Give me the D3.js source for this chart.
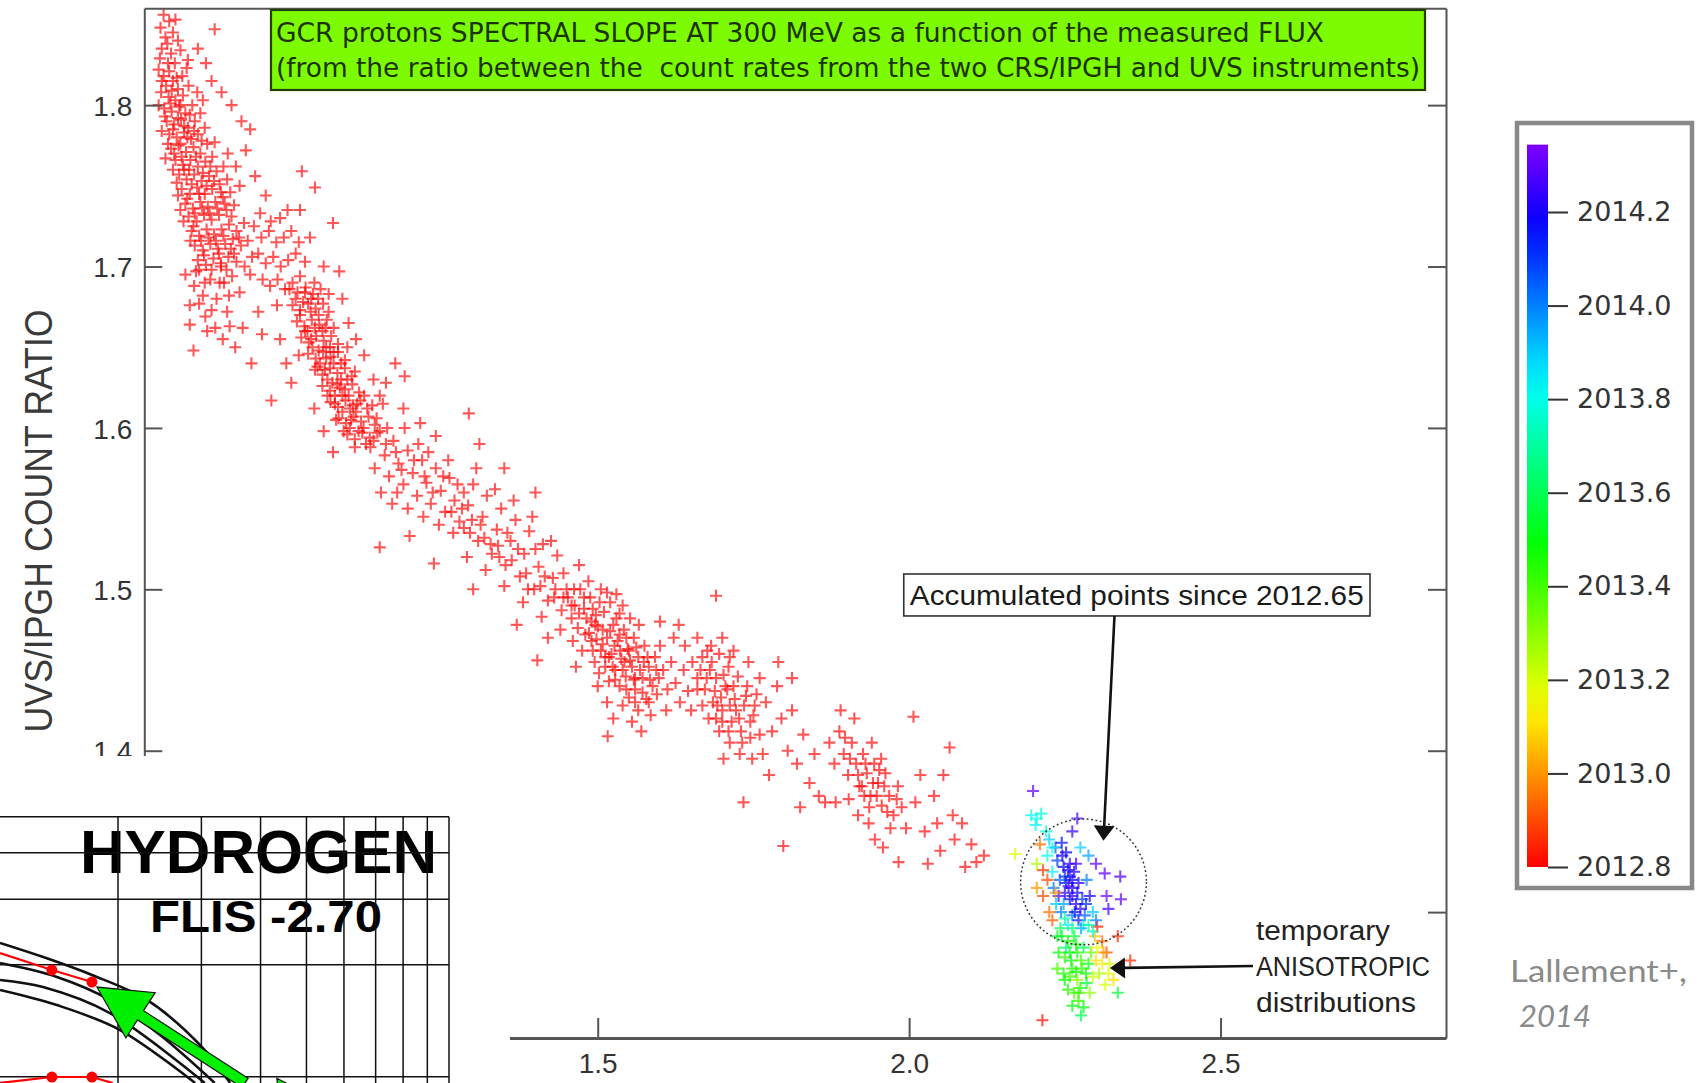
<!DOCTYPE html>
<html><head><meta charset="utf-8">
<script src="https://cdn.jsdelivr.net/npm/d3@7"></script>
<style>html,body{margin:0;padding:0;background:#fff;} svg{display:block;}</style>
</head><body>
<svg id="c" width="1701" height="1083"></svg>
<script>
// ---------------- DATA ----------------
const xTicks = [1.5, 2.0, 2.5];
const yTicksLeft = [1.4, 1.5, 1.6, 1.7, 1.8];
const yTicksRight = [1.3, 1.4, 1.5, 1.6, 1.7, 1.8];
const cbTicks = [2012.8, 2013.0, 2013.2, 2013.4, 2013.6, 2013.8, 2014.0, 2014.2];
const cbRange = [2012.8, 2014.344];

// red points (older than colour scale start) [flux, ratio]
const bandTop = [
[0.803,1.856],[0.812,1.852],[0.798,1.848],[0.818,1.845],[0.806,1.842],[0.822,1.853],[0.809,1.838],[0.826,1.840],[0.800,1.835],[0.815,1.832],[0.885,1.847],[0.830,1.834],[0.842,1.828],[0.797,1.829],[0.821,1.826],
[0.795,1.822],[0.803,1.818],[0.812,1.821],[0.807,1.812],[0.818,1.815],[0.826,1.810],[0.799,1.808],[0.811,1.805],[0.822,1.803],[0.834,1.806],[0.843,1.812],[0.804,1.798],[0.816,1.796],[0.828,1.799],[0.838,1.795],[0.849,1.800],[0.808,1.790],[0.820,1.788],[0.831,1.791],[0.842,1.786],[0.853,1.790],[0.862,1.795],[0.812,1.782],[0.824,1.780],[0.836,1.783],[0.847,1.779],[0.858,1.782],[0.869,1.786],[0.815,1.773],[0.827,1.775],[0.839,1.771],[0.851,1.774],[0.862,1.770],[0.873,1.776],[0.800,1.784],[0.795,1.800],[0.857,1.808],[0.866,1.803],[0.833,1.818],[0.840,1.823],
[0.822,1.766],[0.834,1.763],[0.846,1.766],[0.858,1.762],[0.870,1.765],[0.881,1.768],[0.828,1.757],[0.840,1.754],[0.852,1.757],[0.864,1.753],[0.876,1.756],[0.888,1.759],[0.899,1.762],[0.832,1.748],[0.845,1.745],[0.857,1.749],[0.869,1.745],[0.881,1.748],[0.893,1.751],[0.905,1.754],[0.838,1.739],[0.850,1.736],[0.862,1.740],[0.874,1.737],[0.886,1.740],[0.898,1.743],[0.910,1.746],[0.843,1.731],[0.856,1.728],[0.868,1.732],[0.880,1.729],[0.892,1.732],[0.904,1.735],[0.916,1.738],[0.826,1.744],[0.919,1.762],[0.906,1.770],[0.885,1.777],[0.830,1.735],[0.925,1.750],
[0.848,1.722],[0.860,1.719],[0.872,1.723],[0.884,1.720],[0.896,1.723],[0.908,1.726],[0.920,1.722],[0.853,1.713],[0.866,1.710],[0.878,1.714],[0.890,1.711],[0.902,1.714],[0.914,1.717],[0.927,1.713],[0.858,1.704],[0.871,1.701],[0.883,1.705],[0.895,1.702],[0.907,1.706],[0.932,1.727],[0.938,1.716],[0.945,1.706],[0.920,1.703],
[0.838,1.695],[0.852,1.688],[0.845,1.676],[0.866,1.682],[0.878,1.692],[0.845,1.664],[0.851,1.648],[0.870,1.669],[0.888,1.680],[0.900,1.690],[0.913,1.694],[0.886,1.662],[0.944,1.640],[0.976,1.617],[0.905,1.672],[0.925,1.684],[0.930,1.662],[0.961,1.658],[0.918,1.650],[0.955,1.672],[0.895,1.700],[0.860,1.698],
[0.967,1.744],[1.025,1.759],[1.046,1.749],[1.075,1.727],[1.038,1.718],[1.022,1.735],[0.935,1.772],[0.950,1.756],[0.958,1.733],[0.975,1.728],[0.942,1.785],[0.928,1.790],[0.912,1.800],[0.896,1.808],[0.880,1.815],[0.871,1.826],[0.858,1.835],
[0.800,1.815],[0.810,1.826],[0.816,1.809],[0.824,1.817],[0.830,1.800],[0.805,1.793],[0.814,1.801],[0.826,1.792],[0.836,1.787],[0.845,1.794],[0.818,1.785],[0.830,1.776],[0.841,1.780],[0.852,1.784],[0.864,1.778],[0.820,1.770],[0.832,1.768],[0.844,1.760],[0.855,1.768],[0.866,1.758],[0.878,1.762],[0.836,1.760],[0.848,1.751],[0.860,1.745],[0.872,1.750],[0.884,1.753],[0.895,1.746],[0.841,1.742],[0.853,1.733],[0.865,1.736],[0.877,1.733],[0.889,1.736],[0.901,1.739],[0.912,1.731],[0.851,1.725],[0.863,1.716],[0.875,1.718],[0.887,1.716],[0.899,1.719],[0.911,1.711],[0.924,1.718],[0.868,1.707],[0.880,1.698],[0.892,1.708],[0.904,1.698],[0.916,1.708],[0.933,1.700],[0.810,1.776],[0.806,1.767],[0.818,1.760],[0.824,1.752],[0.835,1.728],[0.846,1.716],[0.855,1.697],[0.869,1.690],[0.893,1.690],[0.908,1.682],[0.880,1.673],[0.860,1.677],[0.873,1.660],[0.898,1.655],[0.909,1.663]
];
const bandMid = [
[0.948,1.725],[0.960,1.718],[0.972,1.722],[0.984,1.715],[0.996,1.718],[0.955,1.708],[0.967,1.702],[0.979,1.706],[0.991,1.700],[1.003,1.704],[1.015,1.708],[0.962,1.692],[0.974,1.688],[0.986,1.692],[0.998,1.686],[1.010,1.690],[1.022,1.694],[1.008,1.722],[1.020,1.715],[1.030,1.703],[0.990,1.730],[1.002,1.735],[0.942,1.695],[0.985,1.676],[1.030,1.684],
[1.005,1.686],[1.018,1.684],[1.031,1.687],[1.043,1.683],[1.055,1.686],
[1.010,1.676],[1.022,1.673],[1.035,1.677],[1.047,1.674],[1.059,1.677],[1.068,1.672],
[1.017,1.666],[1.029,1.663],[1.041,1.667],[1.053,1.664],[1.065,1.667],[1.076,1.662],
[1.024,1.656],[1.036,1.653],[1.048,1.657],[1.060,1.654],[1.072,1.657],[1.083,1.652],
[1.035,1.646],[1.047,1.643],[1.059,1.647],[1.071,1.644],[1.083,1.647],[1.094,1.642],
[1.046,1.636],[1.058,1.633],[1.070,1.637],[1.082,1.634],[1.094,1.637],[1.105,1.632],
[1.058,1.626],[1.070,1.623],[1.082,1.627],[1.094,1.624],[1.106,1.627],[1.117,1.622],
[1.071,1.616],[1.083,1.613],[1.095,1.617],[1.107,1.614],[1.119,1.617],[1.130,1.612],
[1.084,1.606],[1.096,1.603],[1.108,1.607],[1.120,1.604],[1.132,1.607],[1.142,1.602],
[1.098,1.596],[1.110,1.593],[1.122,1.597],[1.134,1.594],[1.146,1.597],
[1.040,1.680],[1.052,1.670],[1.064,1.650],[1.076,1.640],[1.088,1.630],[1.100,1.620],[1.112,1.610],[1.124,1.600],[1.030,1.660],[1.042,1.650],[1.054,1.640],[1.066,1.630],[1.078,1.620],[1.090,1.610],[1.102,1.600],
[0.990,1.655],[1.000,1.640],[1.008,1.628],[1.020,1.645],[1.090,1.680],[1.100,1.665],[1.112,1.655],[1.125,1.645],[1.140,1.630],[1.045,1.612],[1.060,1.598],[1.150,1.620],[1.160,1.628],[1.075,1.585],[1.085,1.697],[1.060,1.700],[1.175,1.640],[1.190,1.632],
[1.015,1.680],[1.027,1.678],[1.039,1.672],[1.051,1.680],[1.063,1.662],[1.022,1.670],[1.034,1.660],[1.046,1.662],[1.058,1.660],[1.070,1.650],[1.040,1.655],[1.052,1.648],[1.064,1.643],[1.076,1.647],[1.088,1.640],[1.050,1.638],[1.062,1.636],[1.074,1.628],[1.086,1.625],[1.098,1.630],[1.066,1.620],[1.078,1.615],[1.090,1.620],[1.102,1.612],[1.114,1.615],[1.080,1.605],[1.092,1.598],[1.104,1.605],[1.116,1.598],[1.128,1.590],[1.110,1.588],[1.140,1.592],[1.045,1.690],[1.068,1.683],[1.098,1.650],[1.110,1.635],[1.125,1.620],[1.138,1.614]
];
const bandLow = [
[1.135,1.588],[1.142,1.575],[1.150,1.598],[1.158,1.583],[1.165,1.570],[1.172,1.592],[1.180,1.578],[1.188,1.565],[1.195,1.586],[1.203,1.572],[1.210,1.558],[1.218,1.580],[1.225,1.566],[1.232,1.553],[1.240,1.575],[1.248,1.561],[1.255,1.548],[1.262,1.569],[1.270,1.555],[1.278,1.542],[1.145,1.606],[1.162,1.600],[1.178,1.560],[1.195,1.550],[1.212,1.590],[1.228,1.585],[1.245,1.540],[1.260,1.580],[1.275,1.565],[1.155,1.615],[1.190,1.600],[1.220,1.545],[1.240,1.595],[1.268,1.535],[1.285,1.560],[1.170,1.553],[1.152,1.560],[1.198,1.533],[1.237,1.516],[1.150,1.526],[1.188,1.612],[1.215,1.603],
[1.285,1.538],[1.292,1.552],[1.300,1.565],[1.308,1.530],[1.315,1.545],[1.322,1.558],[1.330,1.522],[1.338,1.537],[1.345,1.550],[1.352,1.515],[1.360,1.530],[1.368,1.543],[1.375,1.508],[1.382,1.522],[1.390,1.536],[1.398,1.500],[1.405,1.514],[1.412,1.528],[1.420,1.493],[1.428,1.507],[1.435,1.521],[1.442,1.487],[1.450,1.500],[1.298,1.543],[1.318,1.532],[1.340,1.527],[1.362,1.518],[1.385,1.510],[1.408,1.502],[1.430,1.495],[1.305,1.575],[1.335,1.562],[1.365,1.555],[1.395,1.545],[1.425,1.530],[1.290,1.520],[1.320,1.512],[1.350,1.502],[1.380,1.492],[1.410,1.483],[1.440,1.475],[1.293,1.609],[1.310,1.590],[1.350,1.575],[1.400,1.560],[1.300,1.500],[1.370,1.478],[1.403,1.456],[1.420,1.470],
[1.160,1.590],[1.176,1.585],[1.185,1.574],[1.205,1.580],[1.222,1.570],[1.235,1.560],[1.252,1.570],[1.265,1.548],[1.282,1.550],[1.295,1.535],[1.312,1.540],[1.328,1.528],[1.342,1.520],[1.355,1.535],[1.372,1.525],[1.388,1.500],[1.400,1.525],[1.415,1.508],[1.432,1.500],[1.445,1.495],[1.458,1.490]
];
const blobC = [
[1.452,1.495],[1.463,1.490],[1.472,1.500],[1.458,1.482],[1.468,1.476],[1.478,1.488],[1.488,1.495],[1.497,1.484],[1.480,1.472],[1.490,1.468],[1.500,1.477],[1.510,1.486],[1.520,1.492],[1.505,1.462],[1.515,1.470],[1.525,1.478],[1.535,1.485],[1.495,1.455],[1.512,1.452],[1.522,1.460],[1.532,1.468],[1.542,1.475],[1.552,1.482],[1.518,1.443],[1.528,1.450],[1.538,1.457],[1.548,1.463],[1.558,1.470],[1.566,1.478],[1.535,1.440],[1.545,1.446],[1.555,1.452],[1.565,1.458],[1.575,1.465],[1.550,1.433],[1.560,1.438],[1.572,1.445],[1.582,1.452],[1.592,1.458],[1.565,1.425],[1.578,1.432],[1.588,1.440],[1.475,1.462],[1.485,1.505],[1.505,1.500],[1.530,1.497],[1.460,1.468],[1.540,1.428],[1.555,1.418],[1.570,1.412],[1.585,1.422],[1.598,1.445],[1.500,1.440],[1.515,1.430],[1.470,1.515],[1.445,1.510],[1.465,1.452],[1.525,1.420],[1.516,1.409],[1.490,1.480],[1.508,1.475],[1.527,1.465],[1.543,1.455],[1.560,1.445],[1.518,1.458],[1.535,1.472],[1.498,1.469],[1.482,1.482],[1.550,1.462],[1.574,1.455],
[1.600,1.465],[1.605,1.450],[1.612,1.438],[1.618,1.455],[1.625,1.442],[1.632,1.430],[1.638,1.450],[1.645,1.437],[1.610,1.425],[1.622,1.470],[1.640,1.465],[1.650,1.425],[1.600,1.480],[1.630,1.478],
[1.478,1.495],[1.492,1.488],[1.503,1.492],[1.486,1.473],[1.496,1.478],[1.508,1.466],[1.520,1.474],[1.530,1.482],[1.512,1.458],[1.524,1.452],[1.536,1.462],[1.546,1.470],[1.528,1.444],[1.540,1.450],[1.552,1.456],[1.562,1.464],[1.546,1.438],[1.558,1.444],[1.568,1.450],[1.580,1.458],[1.560,1.430],[1.572,1.436],[1.584,1.444],[1.594,1.450],[1.502,1.448],[1.492,1.462],[1.470,1.485],[1.462,1.500],[1.515,1.498],[1.540,1.490],[1.582,1.430],[1.595,1.435]
];
const blobD = [
[1.652,1.455],[1.660,1.445],[1.668,1.458],[1.672,1.438],[1.680,1.450],[1.685,1.430],[1.690,1.445],[1.695,1.460],[1.700,1.425],[1.705,1.440],[1.710,1.452],[1.715,1.418],[1.720,1.432],[1.725,1.446],[1.730,1.412],[1.735,1.428],[1.740,1.440],[1.745,1.408],[1.750,1.422],[1.755,1.435],[1.678,1.420],[1.695,1.412],[1.712,1.405],[1.728,1.398],[1.700,1.470],[1.690,1.496],[1.660,1.470],[1.682,1.465],[1.718,1.462],[1.742,1.455],[1.760,1.410],[1.765,1.398],[1.734,1.368],[1.698,1.433],[1.722,1.425],[1.708,1.438],[1.688,1.437],[1.748,1.395],[1.702,1.395],[1.668,1.428],
[1.665,1.450],[1.675,1.445],[1.683,1.455],[1.692,1.428],[1.702,1.447],[1.712,1.428],[1.718,1.440],[1.727,1.420],[1.738,1.434],[1.745,1.418],[1.752,1.428],[1.700,1.418],[1.690,1.420],[1.710,1.412],[1.732,1.405],[1.676,1.462],[1.712,1.458],[1.660,1.438]
];
const bandTail = [
[1.770,1.430],[1.780,1.412],[1.788,1.440],[1.795,1.420],[1.805,1.400],[1.798,1.341],[1.812,1.425],[1.820,1.392],[1.830,1.410],[1.840,1.380],[1.848,1.398],[1.855,1.372],[1.775,1.385],[1.790,1.455],[1.812,1.445],[1.825,1.365],[1.760,1.445],
[1.872,1.405],[1.880,1.392],[1.888,1.412],[1.895,1.398],[1.902,1.385],[1.908,1.405],[1.915,1.392],[1.920,1.378],[1.926,1.398],[1.932,1.386],[1.938,1.372],[1.944,1.392],[1.950,1.380],[1.956,1.366],[1.962,1.386],[1.968,1.372],[1.975,1.360],[1.982,1.378],[1.988,1.365],[1.995,1.352],[1.882,1.368],[1.865,1.368],[1.890,1.425],[1.912,1.420],[1.935,1.355],[1.945,1.345],[1.958,1.340],[1.970,1.352],[1.928,1.372],[1.918,1.360],[1.903,1.370],[1.940,1.405],[1.955,1.395],
[1.905,1.395],[1.918,1.385],[1.930,1.392],[1.942,1.380],[1.952,1.388],[1.924,1.378],[1.936,1.365],[1.948,1.372],[1.960,1.378],[1.897,1.408],[1.965,1.362],[1.980,1.370],
[2.007,1.421],[2.065,1.402],[2.070,1.360],[2.090,1.328],[2.108,1.331],[2.073,1.345],[1.983,1.331],[2.010,1.368],[2.025,1.350],[2.040,1.372],[2.050,1.338],[2.055,1.385],[2.030,1.330],[2.085,1.355],[2.100,1.342],[2.120,1.335],[2.018,1.385],[2.045,1.355]
];

// accumulated points since 2012.65 [flux, ratio, time]
const recentPts = [
[2.199,1.375,2014.30],[2.196,1.360,2013.82],[2.205,1.358,2013.80],[2.212,1.361,2013.78],[2.203,1.354,2013.85],
[2.270,1.358,2014.28],[2.262,1.350,2014.25],[2.170,1.336,2013.18],[2.205,1.330,2013.25],[2.210,1.342,2012.95],
[2.225,1.345,2013.90],[2.235,1.340,2014.05],[2.245,1.343,2014.15],[2.252,1.337,2014.20],[2.238,1.332,2014.10],[2.248,1.328,2014.18],[2.258,1.330,2014.22],[2.265,1.325,2014.20],[2.242,1.320,2014.05],[2.252,1.318,2014.15],[2.262,1.315,2014.20],[2.272,1.318,2014.22],[2.258,1.308,2014.18],[2.268,1.305,2014.22],[2.278,1.308,2014.10],[2.262,1.298,2014.00],[2.272,1.295,2014.15],[2.282,1.298,2014.05],[2.230,1.325,2013.85],[2.222,1.335,2013.80],[2.285,1.320,2014.00],[2.288,1.335,2013.95],[2.275,1.340,2013.90],[2.248,1.305,2013.95],[2.255,1.292,2013.85],[2.290,1.310,2014.20],[2.295,1.300,2013.90],[2.240,1.310,2014.25],[2.232,1.315,2014.00],[2.268,1.330,2014.26],[2.258,1.322,2014.24],[2.262,1.310,2014.24],[2.250,1.312,2014.22],
[2.314,1.324,2014.30],[2.339,1.322,2014.28],[2.317,1.310,2014.32],[2.340,1.308,2014.30],[2.320,1.302,2014.27],[2.300,1.330,2014.30],
[2.222,1.320,2012.90],[2.225,1.300,2012.95],[2.302,1.291,2012.85],[2.317,1.275,2012.90],[2.355,1.270,2012.85],[2.235,1.312,2013.00],[2.215,1.326,2012.88],[2.298,1.285,2013.05],[2.310,1.282,2012.95],
[2.280,1.292,2013.80],[2.295,1.288,2013.75],[2.300,1.295,2014.00],
[2.245,1.285,2013.50],[2.255,1.282,2013.45],[2.265,1.285,2013.55],[2.240,1.275,2013.48],[2.250,1.272,2013.42],[2.260,1.270,2013.50],[2.270,1.275,2013.45],[2.280,1.278,2013.60],[2.248,1.262,2013.45],[2.258,1.260,2013.40],[2.268,1.263,2013.48],[2.278,1.265,2013.42],[2.288,1.268,2013.50],[2.255,1.252,2013.45],[2.265,1.250,2013.38],[2.275,1.253,2013.45],[2.285,1.256,2013.55],[2.262,1.242,2013.50],[2.272,1.245,2013.42],[2.292,1.275,2013.35],[2.243,1.290,2013.60],[2.238,1.265,2013.40],[2.335,1.250,2013.55],[2.280,1.241,2013.50],[2.270,1.258,2013.30],[2.252,1.278,2013.65],
[2.302,1.278,2013.15],[2.310,1.268,2013.12],[2.320,1.262,2013.18],[2.328,1.258,2013.10],[2.315,1.255,2013.20],[2.305,1.262,2013.25],[2.295,1.260,2013.22],
[2.214,1.233,2012.82],
[2.246,1.335,2014.20],[2.255,1.326,2014.22],[2.262,1.320,2014.18],[2.270,1.312,2014.20],[2.275,1.302,2014.24],[2.266,1.300,2014.16],[2.256,1.316,2014.25],[2.250,1.322,2014.10],[2.244,1.300,2014.00],[2.236,1.305,2013.90],[2.230,1.340,2013.82],[2.220,1.350,2013.78],[2.284,1.305,2014.12],[2.276,1.290,2013.95],[2.288,1.292,2013.70],[2.262,1.290,2013.65],[2.250,1.296,2013.70],[2.258,1.275,2013.52],[2.268,1.280,2013.48],[2.276,1.270,2013.40],[2.284,1.262,2013.47],[2.262,1.265,2013.44],[2.250,1.258,2013.50],[2.272,1.250,2013.42],[2.290,1.250,2013.30],[2.300,1.270,2013.10],[2.312,1.275,2013.02],[2.322,1.268,2013.20],[2.230,1.295,2012.92],[2.238,1.285,2013.55],[2.276,1.236,2013.60],[2.335,1.285,2012.85],[2.215,1.310,2012.90],[2.205,1.315,2013.00]
];

// inset (log-log panel fragment)
const insetGridX = [2,3,4,5,6,7,8,9,10];
const insetGridY = [1,2,3,4,5];
const insetBlack = [
 [[1.127,2.288],[1.45,2.059],[1.762,1.877],[2.302,1.608],[2.98,1.217],[3.45,0.962]],
 [[1.127,2.021],[1.486,1.854],[1.923,1.608],[2.454,1.294],[3.2,0.962]],
 [[1.127,1.82],[1.389,1.742],[1.923,1.483],[3.05,0.962]],
 [[1.127,1.711],[1.486,1.558],[2.02,1.335],[2.91,0.962]]
];
const insetRedUpper = [[1.127,2.15],[1.45,1.935],[1.762,1.797]];
const insetRedLower = [[1.127,0.962],[1.45,0.998],[1.762,0.998],[1.95,0.962]];
const insetArrows = [ {from:[3.71,0.962], to:[1.805,1.742]}, {from:[4.85,0.80], to:[4.33,0.99]} ];

// ---------------- DRAW ----------------
const svg = d3.select("#c");
const x = d3.scaleLinear().domain([0.772, 2.862]).range([144.3, 1446]);
const y = d3.scaleLinear().domain([1.222, 1.860]).range([1038, 8.3]);
const hueScale = d3.scaleLinear().domain(cbRange).range([0, 270]).clamp(true);
const colorOf = t => d3.hsl(hueScale(t), 1, 0.5).formatHex();

const plus = "M-6,0H6M0,-6V6";
const redPts = [].concat(bandTop, bandMid, bandLow, blobC, blobD, bandTail);
svg.append("g").selectAll("path").data(redPts).join("path")
  .attr("d", plus).attr("transform", d => `translate(${x(d[0])},${y(d[1])})`)
  .attr("stroke", colorOf(2012.0)).attr("stroke-width", 2.1).attr("stroke-opacity", 0.66).attr("fill", "none");
svg.append("g").selectAll("path").data(recentPts).join("path")
  .attr("d", plus).attr("transform", d => `translate(${x(d[0])},${y(d[1])})`)
  .attr("stroke", d => colorOf(d[2])).attr("stroke-width", 2.1).attr("stroke-opacity", 0.72).attr("fill", "none");

// axes / frame
const axCol = "#555";
const gL = svg.append("g").attr("transform", `translate(${x.range()[0]},0)`)
  .call(d3.axisLeft(y).tickValues(yTicksLeft).tickFormat(d3.format(".1f")).tickSize(-18).tickSizeOuter(0).tickPadding(12));
const gR = svg.append("g").attr("transform", `translate(${x.range()[1]},0)`)
  .call(d3.axisRight(y).tickValues(yTicksRight).tickFormat("").tickSize(-18).tickSizeOuter(0));
const gB = svg.append("g").attr("transform", `translate(0,${y.range()[0]})`)
  .call(d3.axisBottom(x).tickValues(xTicks).tickFormat(d3.format(".1f")).tickSize(-20).tickSizeOuter(0).tickPadding(15));
const gT = svg.append("g").attr("transform", `translate(0,${y.range()[1]})`)
  .call(d3.axisTop(x).tickValues([]).tickSizeOuter(0));
[gL, gR, gB, gT].forEach(g => {
  g.select(".domain").attr("stroke", axCol).attr("stroke-width", 2);
  g.selectAll(".tick line").attr("stroke", axCol).attr("stroke-width", 2);
  g.selectAll("text").attr("fill", "#333").style("font-family", "'Liberation Sans Narrow','Liberation Sans',Arial,sans-serif").style("font-size", "28px");
});
gB.select(".domain").attr("stroke-width", 2.8);
gL.selectAll("text").attr("dy", "0.36em");

// y-axis title
svg.append("text").attr("transform", `translate(52,${(y(1.8)+y(1.4))/2 + 93}) rotate(-90)`)
  .attr("text-anchor", "middle").attr("fill", "#3a3a3a")
  .style("font-family", "'Liberation Sans Narrow','Liberation Sans',Arial,sans-serif").style("font-size", "38px")
  .attr("textLength", 423).attr("lengthAdjust", "spacingAndGlyphs")
  .text("UVS/IPGH COUNT RATIO");

// title box
svg.append("rect").attr("x", 271).attr("y", 10).attr("width", 1154).attr("height", 80)
  .attr("fill", "#7dfb02").attr("stroke", "#24400a").attr("stroke-width", 2.2);
const titleLines = ["GCR protons SPECTRAL SLOPE AT 300 MeV as a function of the measured FLUX",
  "(from the ratio between the  count rates from the two CRS/IPGH and UVS instruments)"];
const titleLens = [1048, 1144];
titleLines.forEach((t, i) => {
  svg.append("text").attr("x", 276).attr("y", 42 + i * 35).attr("fill", "#1c3300")
    .style("white-space", "pre")
    .style("font-family", "'Liberation Sans Narrow','DejaVu Sans Condensed','Liberation Sans',sans-serif").style("font-size", "27px")
    .attr("textLength", titleLens[i]).attr("lengthAdjust", "spacingAndGlyphs").text(t);
});

// annotation box + arrows
function arrowPoly(p0, p1, headLen, headHalf, shaftHalf) {
  const dx = p1[0]-p0[0], dy = p1[1]-p0[1], L = Math.hypot(dx, dy);
  const ux = dx/L, uy = dy/L, nx = -uy, ny = ux;
  const bx = p1[0]-ux*headLen, by = p1[1]-uy*headLen;
  return [[p0[0]+nx*shaftHalf, p0[1]+ny*shaftHalf],[bx+nx*shaftHalf, by+ny*shaftHalf],[bx+nx*headHalf, by+ny*headHalf],
          p1,[bx-nx*headHalf, by-ny*headHalf],[bx-nx*shaftHalf, by-ny*shaftHalf],[p0[0]-nx*shaftHalf, p0[1]-ny*shaftHalf]];
}
const poly = pts => "M" + pts.map(p => p.join(",")).join("L") + "Z";

svg.append("rect").attr("x", x(1.9914)).attr("y", y(1.5095)).attr("width", x(2.74)-x(1.9914)).attr("height", y(1.4835)-y(1.5095))
  .attr("fill", "#fff").attr("stroke", "#333").attr("stroke-width", 1.6);
svg.append("text").attr("x", x(1.9914)+6).attr("y", y(1.5095)+31).attr("fill", "#1a1a1a")
  .style("font-family", "'Liberation Sans Narrow','Liberation Sans',Arial,sans-serif").style("font-size", "27px")
  .attr("textLength", 454).attr("lengthAdjust", "spacingAndGlyphs").text("Accumulated points since 2012.65");
svg.append("path").attr("d", poly(arrowPoly([x(2.3297), y(1.4835)], [x(2.312), y(1.3442)], 15, 10.5, 1.3))).attr("fill", "#111");

// dashed circle
const cx = x(2.28), cyy = y(1.3187), r = x(2.28) - x(2.179);
svg.append("circle").attr("cx", cx).attr("cy", cyy).attr("r", r).attr("fill", "none")
  .attr("stroke", "#333").attr("stroke-width", 1.5).attr("stroke-dasharray", "1.8,2.6");

// anisotropic annotation
const anisoLines = ["temporary", "ANISOTROPIC", "distributions"];
const anisoLens = [134, 174, 160];
anisoLines.forEach((t, i) => {
  svg.append("text").attr("x", 1256).attr("y", 940 + i * 36).attr("fill", "#222")
    .style("font-family", "'Liberation Sans Narrow','Liberation Sans',Arial,sans-serif").style("font-size", "27px")
    .attr("textLength", anisoLens[i]).attr("lengthAdjust", "spacingAndGlyphs").text(t);
});
svg.append("path").attr("d", poly(arrowPoly([1253, 966], [x(2.3225), y(1.2653)], 15, 10.5, 1.3))).attr("fill", "#111");

// colour bar
const cb = d3.scaleLinear().domain([2012.8, 2014.2]).range([867, 212]);
svg.append("rect").attr("x", 1517).attr("y", 123).attr("width", 175).attr("height", 765)
  .attr("fill", "#fff").attr("stroke", "#888").attr("stroke-width", 4.5);
const grad = svg.append("defs").append("linearGradient").attr("id", "cbg")
  .attr("x1", 0).attr("y1", 1).attr("x2", 0).attr("y2", 0);
d3.range(0, 1.0001, 0.05).forEach(f => {
  grad.append("stop").attr("offset", f).attr("stop-color", colorOf(cbRange[0] + f * (cbRange[1] - cbRange[0])));
});
svg.append("rect").attr("x", 1527).attr("y", cb(cbRange[1])).attr("width", 21).attr("height", cb(cbRange[0]) - cb(cbRange[1]))
  .attr("fill", "url(#cbg)");
const gC = svg.append("g").attr("transform", "translate(1548,0)")
  .call(d3.axisRight(cb).tickValues(cbTicks).tickFormat(d3.format(".1f")).tickSize(20).tickPadding(9).tickSizeOuter(0));
gC.select(".domain").remove();
gC.selectAll(".tick line").attr("stroke", "#333").attr("stroke-width", 2);
gC.selectAll("text").attr("fill", "#333").style("font-family", "'DejaVu Sans',Verdana,sans-serif").style("font-size", "27px");

// citation
svg.append("text").attr("x", 1510).attr("y", 982).attr("fill", "#8a8a8a")
  .style("font-family", "Lato,'Open Sans',sans-serif").style("font-size", "31px")
  .attr("textLength", 177).attr("lengthAdjust", "spacingAndGlyphs").text("Lallement+,");
svg.append("text").attr("x", 1519).attr("y", 1027).attr("fill", "#8a8a8a")
  .style("font-family", "Lato,'Open Sans',sans-serif").style("font-size", "31px").style("font-style", "italic")
  .text("2014");

// ---------------- INSET ----------------
svg.append("rect").attr("x", 0).attr("y", 756).attr("width", 510).attr("height", 327).attr("fill", "#fff");
const ix = d3.scaleLog().domain([2, 10]).range([118, 449]);
const iy = d3.scaleLog().domain([1, 5]).range([1076.7, 816.7]);
svg.select("defs").append("clipPath").attr("id", "ic").append("rect")
  .attr("x", 0).attr("y", iy(5) - 2).attr("width", ix(10) + 2).attr("height", 1083 - iy(5) + 2);
const ig = svg.append("g").attr("clip-path", "url(#ic)");
ig.append("text").attr("x", 80).attr("y", 873).attr("fill", "#000")
  .style("font-family", "'Liberation Sans',Arial,sans-serif").style("font-weight", "bold").style("font-size", "61px")
  .attr("textLength", 357).attr("lengthAdjust", "spacingAndGlyphs").text("HYDROGEN");
ig.append("text").attr("x", 150).attr("y", 932).attr("fill", "#000")
  .style("font-family", "'Liberation Sans',Arial,sans-serif").style("font-weight", "bold").style("font-size", "45px")
  .attr("textLength", 232).attr("lengthAdjust", "spacingAndGlyphs").text("FLIS -2.70");
ig.selectAll(".gx").data(insetGridX).join("line").attr("class", "gx")
  .attr("x1", d => ix(d)).attr("x2", d => ix(d)).attr("y1", iy(5)).attr("y2", 1090)
  .attr("stroke", "#111").attr("stroke-width", 1.5);
ig.selectAll(".gy").data(insetGridY).join("line").attr("class", "gy")
  .attr("y1", d => iy(d)).attr("y2", d => iy(d)).attr("x1", -5).attr("x2", ix(10))
  .attr("stroke", "#111").attr("stroke-width", 1.5);
const iline = d3.line().x(d => ix(d[0])).y(d => iy(d[1])).curve(d3.curveCatmullRom);
ig.selectAll(".bk").data(insetBlack).join("path").attr("class", "bk").attr("d", iline)
  .attr("fill", "none").attr("stroke", "#111").attr("stroke-width", 2.6);
const rline = d3.line().x(d => ix(d[0])).y(d => iy(d[1]));
[insetRedUpper, insetRedLower].forEach(arr => {
  ig.append("path").attr("d", rline(arr)).attr("fill", "none").attr("stroke", "#f00").attr("stroke-width", 2.2);
});
ig.selectAll(".rd").data([insetRedUpper[1], insetRedUpper[2], insetRedLower[1], insetRedLower[2]]).join("circle")
  .attr("class", "rd").attr("cx", d => ix(d[0])).attr("cy", d => iy(d[1])).attr("r", 5.5).attr("fill", "#f00");
insetArrows.forEach((a, i) => {
  const p0 = [ix(a.from[0]), iy(a.from[1])], p1 = [ix(a.to[0]), iy(a.to[1])];
  ig.append("path").attr("d", poly(arrowPoly(p0, p1, i ? 22 : 52, i ? 12 : 27, i ? 3 : 5.5)))
    .attr("fill", "#00f000").attr("stroke", "#111").attr("stroke-width", 1.2);
});
</script>
</body></html>
